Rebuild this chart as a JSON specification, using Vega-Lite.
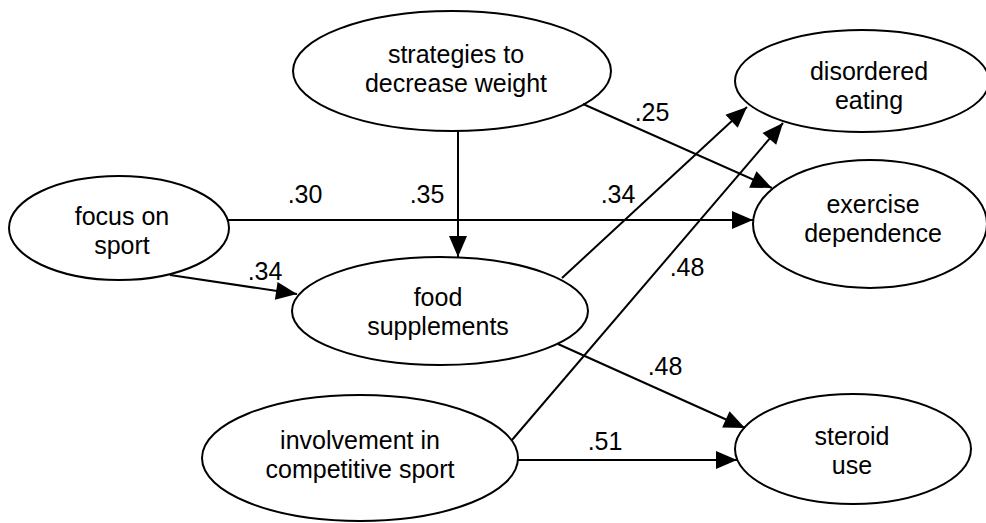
{
  "$schema": "https://vega.github.io/schema/vega-lite/v6.json",
  "width": 986,
  "height": 523,
  "padding": 0,
  "autosize": "none",
  "background": "white",
  "config": {"view": {"stroke": null}},
  "datasets": {
    "nodes": [
      {"node": "strategies", "x": 452, "y": 71, "tx": 456, "ty": 69, "label": "strategies to\ndecrease weight"},
      {"node": "disordered", "x": 862, "y": 81, "tx": 869, "ty": 86, "label": "disordered\neating"},
      {"node": "focus", "x": 119, "y": 228, "tx": 122, "ty": 231, "label": "focus on\nsport"},
      {"node": "exercise", "x": 870, "y": 224, "tx": 873, "ty": 219, "label": "exercise\ndependence"},
      {"node": "food", "x": 440, "y": 311, "tx": 438, "ty": 312, "label": "food\nsupplements"},
      {"node": "involvement", "x": 360, "y": 458, "tx": 360, "ty": 455, "label": "involvement in\ncompetitive sport"},
      {"node": "steroid", "x": 853, "y": 449, "tx": 852, "ty": 451, "label": "steroid\nuse"}
    ],
    "edges": [
      {"from": "strategies", "to": "food", "xs": 458, "ys": 131, "xe": 458, "ye": 257, "coef": ".35", "lx": 427, "ly": 195},
      {"from": "focus", "to": "exercise", "xs": 228, "ys": 220, "xe": 753, "ye": 220, "coef": ".30", "lx": 305, "ly": 195},
      {"from": "strategies", "to": "exercise", "xs": 583, "ys": 104, "xe": 772, "ye": 188, "coef": ".25", "lx": 652, "ly": 113},
      {"from": "focus", "to": "food", "xs": 170, "ys": 275, "xe": 297, "ye": 294, "coef": ".34", "lx": 265, "ly": 272},
      {"from": "food", "to": "disordered", "xs": 562, "ys": 278, "xe": 747, "ye": 107, "coef": ".34", "lx": 618, "ly": 195},
      {"from": "involvement", "to": "disordered", "xs": 512, "ys": 440, "xe": 783, "ye": 123, "coef": ".48", "lx": 687, "ly": 268},
      {"from": "food", "to": "steroid", "xs": 558, "ys": 344, "xe": 745, "ye": 428, "coef": ".48", "lx": 665, "ly": 367},
      {"from": "involvement", "to": "steroid", "xs": 518, "ys": 460, "xe": 737, "ye": 460, "coef": ".51", "lx": 605, "ly": 442}
    ]
  },
  "layer": [
    {
      "data": {"name": "edges"},
      "mark": {"type": "rule", "color": "black", "strokeWidth": 2},
      "encoding": {
        "x": {"field": "xs", "type": "quantitative", "scale": {"domain": [0, 986]}, "axis": null},
        "y": {"field": "ys", "type": "quantitative", "scale": {"domain": [0, 523], "reverse": true}, "axis": null},
        "x2": {"field": "xe"},
        "y2": {"field": "ye"}
      }
    },
    {
      "data": {"name": "edges"},
      "transform": [
        {"calculate": "atan2(datum.xe - datum.xs, -(datum.ye - datum.ys)) * 180 / PI", "as": "ang"}
      ],
      "mark": {"type": "point", "shape": "M 0 0 L -9 21 L 9 21 Z", "size": 4, "filled": true, "color": "black", "opacity": 1, "strokeWidth": 0},
      "encoding": {
        "x": {"field": "xe", "type": "quantitative", "scale": {"domain": [0, 986]}, "axis": null},
        "y": {"field": "ye", "type": "quantitative", "scale": {"domain": [0, 523], "reverse": true}, "axis": null},
        "angle": {"field": "ang", "type": "quantitative", "scale": null}
      }
    },
    {
      "data": {"name": "nodes"},
      "mark": {"type": "point", "size": 4, "filled": false, "color": "black", "opacity": 1, "strokeWidth": 2},
      "encoding": {
        "x": {"field": "x", "type": "quantitative", "scale": {"domain": [0, 986]}, "axis": null},
        "y": {"field": "y", "type": "quantitative", "scale": {"domain": [0, 523], "reverse": true}, "axis": null},
        "shape": {
          "field": "node", "type": "nominal", "legend": null,
          "scale": {
            "domain": ["strategies", "disordered", "focus", "exercise", "food", "involvement", "steroid"],
            "range": [
              "M -159 0 C -159 -33.1 -87.8 -60 0 -60 C 87.8 -60 159 -33.1 159 0 C 159 33.1 87.8 60 0 60 C -87.8 60 -159 33.1 -159 0 Z",
              "M -127 0 C -127 -28.2 -70.1 -51 0 -51 C 70.1 -51 127 -28.2 127 0 C 127 28.2 70.1 51 0 51 C -70.1 51 -127 28.2 -127 0 Z",
              "M -110 0 C -110 -28.7 -60.8 -52 0 -52 C 60.8 -52 110 -28.7 110 0 C 110 28.7 60.8 52 0 52 C -60.8 52 -110 28.7 -110 0 Z",
              "M -117 0 C -117 -35.3 -64.6 -64 0 -64 C 64.6 -64 117 -35.3 117 0 C 117 35.3 64.6 64 0 64 C -64.6 64 -117 35.3 -117 0 Z",
              "M -148 0 C -148 -29.8 -81.7 -54 0 -54 C 81.7 -54 148 -29.8 148 0 C 148 29.8 81.7 54 0 54 C -81.7 54 -148 29.8 -148 0 Z",
              "M -158 0 C -158 -34.8 -87.3 -63 0 -63 C 87.3 -63 158 -34.8 158 0 C 158 34.8 87.3 63 0 63 C -87.3 63 -158 34.8 -158 0 Z",
              "M -118 0 C -118 -30.4 -65.2 -55 0 -55 C 65.2 -55 118 -30.4 118 0 C 118 30.4 65.2 55 0 55 C -65.2 55 -118 30.4 -118 0 Z"
            ]
          }
        }
      }
    },
    {
      "data": {"name": "nodes"},
      "mark": {"type": "text", "font": "Liberation Sans", "fontSize": 25, "lineHeight": 29, "lineBreak": "\n", "align": "center", "baseline": "middle", "dy": -14, "color": "black"},
      "encoding": {
        "x": {"field": "tx", "type": "quantitative", "scale": {"domain": [0, 986]}, "axis": null},
        "y": {"field": "ty", "type": "quantitative", "scale": {"domain": [0, 523], "reverse": true}, "axis": null},
        "text": {"field": "label", "type": "nominal"}
      }
    },
    {
      "data": {"name": "edges"},
      "mark": {"type": "text", "font": "Liberation Sans", "fontSize": 25, "align": "center", "baseline": "middle", "color": "black"},
      "encoding": {
        "x": {"field": "lx", "type": "quantitative", "scale": {"domain": [0, 986]}, "axis": null},
        "y": {"field": "ly", "type": "quantitative", "scale": {"domain": [0, 523], "reverse": true}, "axis": null},
        "text": {"field": "coef", "type": "nominal"}
      }
    }
  ]
}
